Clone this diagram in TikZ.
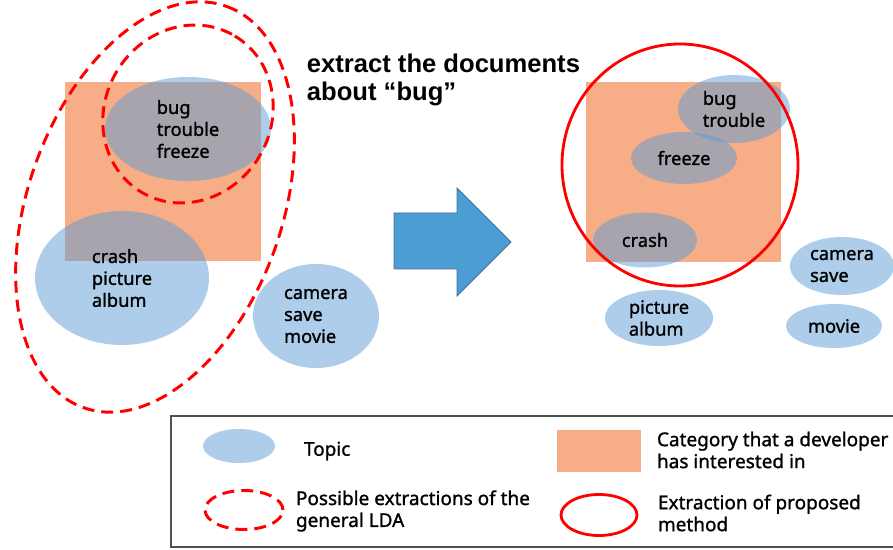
\documentclass[tikz,border=0pt]{standalone}
\usepackage{fontspec}
\setmainfont{Noto Sans}
\newfontfamily\labelfont{Noto Sans}[FakeBold=1.2]
\newfontfamily\headfont{Liberation Sans}
\usetikzlibrary{positioning,shapes.geometric}
\usepackage{xcolor}
\definecolor{topicblue}{RGB}{91,155,213}
\definecolor{catorange}{RGB}{247,174,134}
\definecolor{arrowblue}{RGB}{76,157,211}
\definecolor{arrowedge}{RGB}{64,112,156}
\definecolor{framegray}{RGB}{80,80,80}
\newcommand{\pxu}{0.025cm}
\tikzset{
  topic/.style 2 args = {
    ellipse, fill=topicblue, fill opacity=0.5, text opacity=1,
    inner sep=0pt, minimum width=#1*\pxu, minimum height=#2*\pxu,
    align=left, font=\labelfont\fontsize{13}{15.6}\selectfont
  },
  category/.style 2 args = {
    rectangle, fill=catorange, inner sep=0pt,
    minimum width=#1*\pxu, minimum height=#2*\pxu
  },
  general/.style  = {draw=red, line width=2.1pt, dash pattern=on 8.5pt off 5pt},
  proposed/.style = {draw=red, line width=2pt},
  ring/.style 2 args = {
    ellipse, inner sep=0pt, minimum width=#1*\pxu, minimum height=#2*\pxu
  },
  legtext/.style  = {anchor=west, align=left, font=\labelfont\fontsize{13.5}{15.6}\selectfont},
  headline/.style = {anchor=west, align=left, font=\headfont\bfseries\fontsize{18.2}{20.5}\selectfont}
}

\begin{document}
\begin{tikzpicture}[x=0.025cm,y=-0.025cm]
\useasboundingbox (0,0) rectangle (893,550);

% --- left: topics found by the general LDA --------------------------------
\node[category={196}{179}] (catL) at (163,171.5) {};
\node[topic={166}{104}] (bugL)    at (188,129) {bug\\trouble\\freeze};
\node[topic={174}{134}] (crashL)  at (122,278) {crash\\picture\\album};
\node[topic={126}{104}] (cameraL) at (316,316) {camera\\save\\movie};

\draw[general] (155,207) ellipse [x radius=213, y radius=127, rotate=70.4];
\draw[general] (188,114) ellipse [x radius=91, y radius=83, rotate=59];

% --- the query and the step to the right ----------------------------------
\node[headline] (query) at (302,80) {extract the documents\\about “bug”};
\draw[fill=arrowblue, draw=arrowedge, line width=0.6pt]
  (394,213) -- (457,213) -- (457,188) -- (511,242)
  -- (457,296) -- (457,269) -- (394,269) -- cycle;

% --- right: topics found by the proposed method ---------------------------
\node[category={195}{180}] (catR) at (683.5,172) {};
\node[topic={112}{68}]  (bugR)     at (734,109) {bug\\trouble};
\node[topic={106}{52}]  (freezeR)  at (684,158) {freeze};
\node[topic={104}{55}]  (crashR)   at (645,240) {crash};
\node[topic={108}{56}]  (pictureR) at (659,318) {picture\\album};
\node[topic={104}{58}]  (cameraR)  at (842,266) {camera\\save};
\node[topic={96}{44}]   (movieR)   at (834,326) {movie};
\node[ring={236}{242}, proposed] (extractR) at (680,165) {};

% --- legend ---------------------------------------------------------------
\draw[framegray, line width=1pt] (171,416) rectangle (900,547);
\node[topic={72}{34}] (legtopic) at (239,446) {};
\node[legtext] (legtopictxt) at (299,451) {Topic};
\node[ring={78}{39}, general] (leggeneral) at (244,510) {};
\node[legtext] (leggeneraltxt) at (291,511) {Possible extractions of the\\general LDA};
\node[category={84}{42}] (legcat) at (599,451) {};
\node[legtext] (legcattxt) at (652,450) {Category that a developer\\has interested in};
\node[ring={76}{41}, proposed] (legproposed) at (599,515) {};
\node[legtext] (legproposedtxt) at (653,513) {Extraction of proposed\\method};

\end{tikzpicture}
\end{document}
